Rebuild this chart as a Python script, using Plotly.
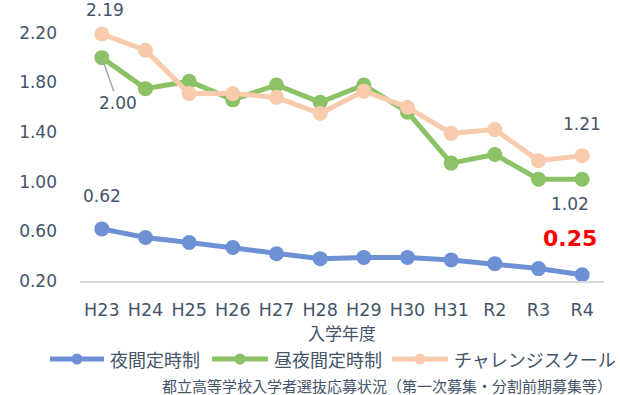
import plotly.graph_objects as go

years = ["H23", "H24", "H25", "H26", "H27", "H28", "H29", "H30", "H31", "R2", "R3", "R4"]
night = [0.62, 0.55, 0.51, 0.47, 0.42, 0.38, 0.39, 0.39, 0.37, 0.34, 0.30, 0.25]
day_night = [2.00, 1.75, 1.81, 1.66, 1.78, 1.64, 1.78, 1.56, 1.15, 1.22, 1.02, 1.02]
challenge = [2.19, 2.06, 1.71, 1.71, 1.68, 1.55, 1.73, 1.60, 1.39, 1.42, 1.17, 1.21]
series_names = ["夜間定時制", "昼夜間定時制", "チャレンジスクール"]
y_ticks = [0.20, 0.60, 1.00, 1.40, 1.80, 2.20]
source_note = "都立高等学校入学者選抜応募状況（第一次募集・分割前期募集等）"

TXT = "#44546A"
NUM_FONT = "DejaVu Sans, Verdana, sans-serif"
JP_FONT = "Noto Sans CJK JP, sans-serif"
colors = ["#6E90D5", "#8CC266", "#F8CBAD"]

W, H = 620, 395
L, R, T, B = 80, 16, 8, 114
PW, PH = W - L - R, H - T - B


def px(x):
    return (x - L) / PW


def py(y):
    return (H - B - y) / PH


fig = go.Figure()
for name, vals, col in zip(series_names, [night, day_night, challenge], colors):
    fig.add_trace(go.Scatter(
        x=years, y=vals, name=name, mode="lines+markers",
        line=dict(color=col, width=5),
        marker=dict(color=col, size=15),
        showlegend=False,
    ))

lab = dict(family=NUM_FONT, size=17, color=TXT)
anns = [
    dict(x=years[0], y=challenge[0], text=f"{challenge[0]:.2f}", yshift=24, xshift=3, showarrow=False, font=lab),
    dict(x=years[0], y=day_night[0], text=f"{day_night[0]:.2f}", showarrow=True,
         ax=16, ay=45, arrowhead=0, arrowwidth=1.5, arrowcolor="#A6A6A6", standoff=2, font=lab),
    dict(x=years[0], y=night[0], text=f"{night[0]:.2f}", yshift=33, showarrow=False, font=lab),
    dict(x=years[-1], y=challenge[-1], text=f"{challenge[-1]:.2f}", yshift=32, showarrow=False, font=lab),
    dict(x=years[-1], y=day_night[-1], text=f"{day_night[-1]:.2f}", yshift=-25, xshift=-12, showarrow=False, font=lab),
    dict(x=years[-1], y=night[-1], text=f"<b>{night[-1]:.2f}</b>", yshift=36, xshift=-12, showarrow=False,
         font=dict(family=NUM_FONT, size=22, color="#FF0000")),
    dict(xref="paper", yref="paper", x=px(160), y=py(385), xanchor="left", yanchor="middle",
         text=source_note, showarrow=False, font=dict(family=JP_FONT, size=15, color=TXT)),
]
for a in anns:
    a.setdefault("xref", "x")
    a.setdefault("yref", "y")

# legend: line sample with a dot, followed by the series name
shapes = []
legend_y = 359
legend_items = [(50, 104), (212, 268), (392, 448)]
for (x0, x1), name, col in zip(legend_items, series_names, colors):
    shapes.append(dict(type="line", xref="paper", yref="paper", x0=px(x0), x1=px(x1),
                       y0=py(legend_y), y1=py(legend_y), line=dict(color=col, width=5)))
    shapes.append(dict(type="circle", xref="paper", yref="paper", xsizemode="pixel", ysizemode="pixel",
                       xanchor=px((x0 + x1) / 2), yanchor=py(legend_y), x0=-5.5, x1=5.5, y0=-5.5, y1=5.5,
                       fillcolor=col, line=dict(width=0)))
    anns.append(dict(xref="paper", yref="paper", x=px(x1 + 4), y=py(legend_y), xanchor="left", yanchor="middle",
                     text=name, showarrow=False, font=dict(family=JP_FONT, size=18, color=TXT)))

fig.update_layout(annotations=anns, shapes=shapes)

fig.update_layout(
    width=W, height=H,
    margin=dict(l=L, r=R, t=T, b=B),
    paper_bgcolor="white", plot_bgcolor="white",
    showlegend=False,
    xaxis=dict(
        type="category", range=[-0.5, 11.5], showgrid=False, showline=True, linecolor="#D9D9D9", linewidth=2,
        tickfont=dict(family=NUM_FONT, size=17.5, color=TXT), ticklabelstandoff=12,
        title=dict(text="入学年度", font=dict(family=JP_FONT, size=17, color=TXT), standoff=0),
    ),
    yaxis=dict(
        range=[0.2, 2.4], tickvals=y_ticks, ticktext=[f"{v:.2f}" for v in y_ticks],
        showgrid=False, zeroline=False, showline=False,
        tickfont=dict(family=NUM_FONT, size=17, color=TXT), ticklabelstandoff=22,
    ),
)

fig.write_html("out.html")
